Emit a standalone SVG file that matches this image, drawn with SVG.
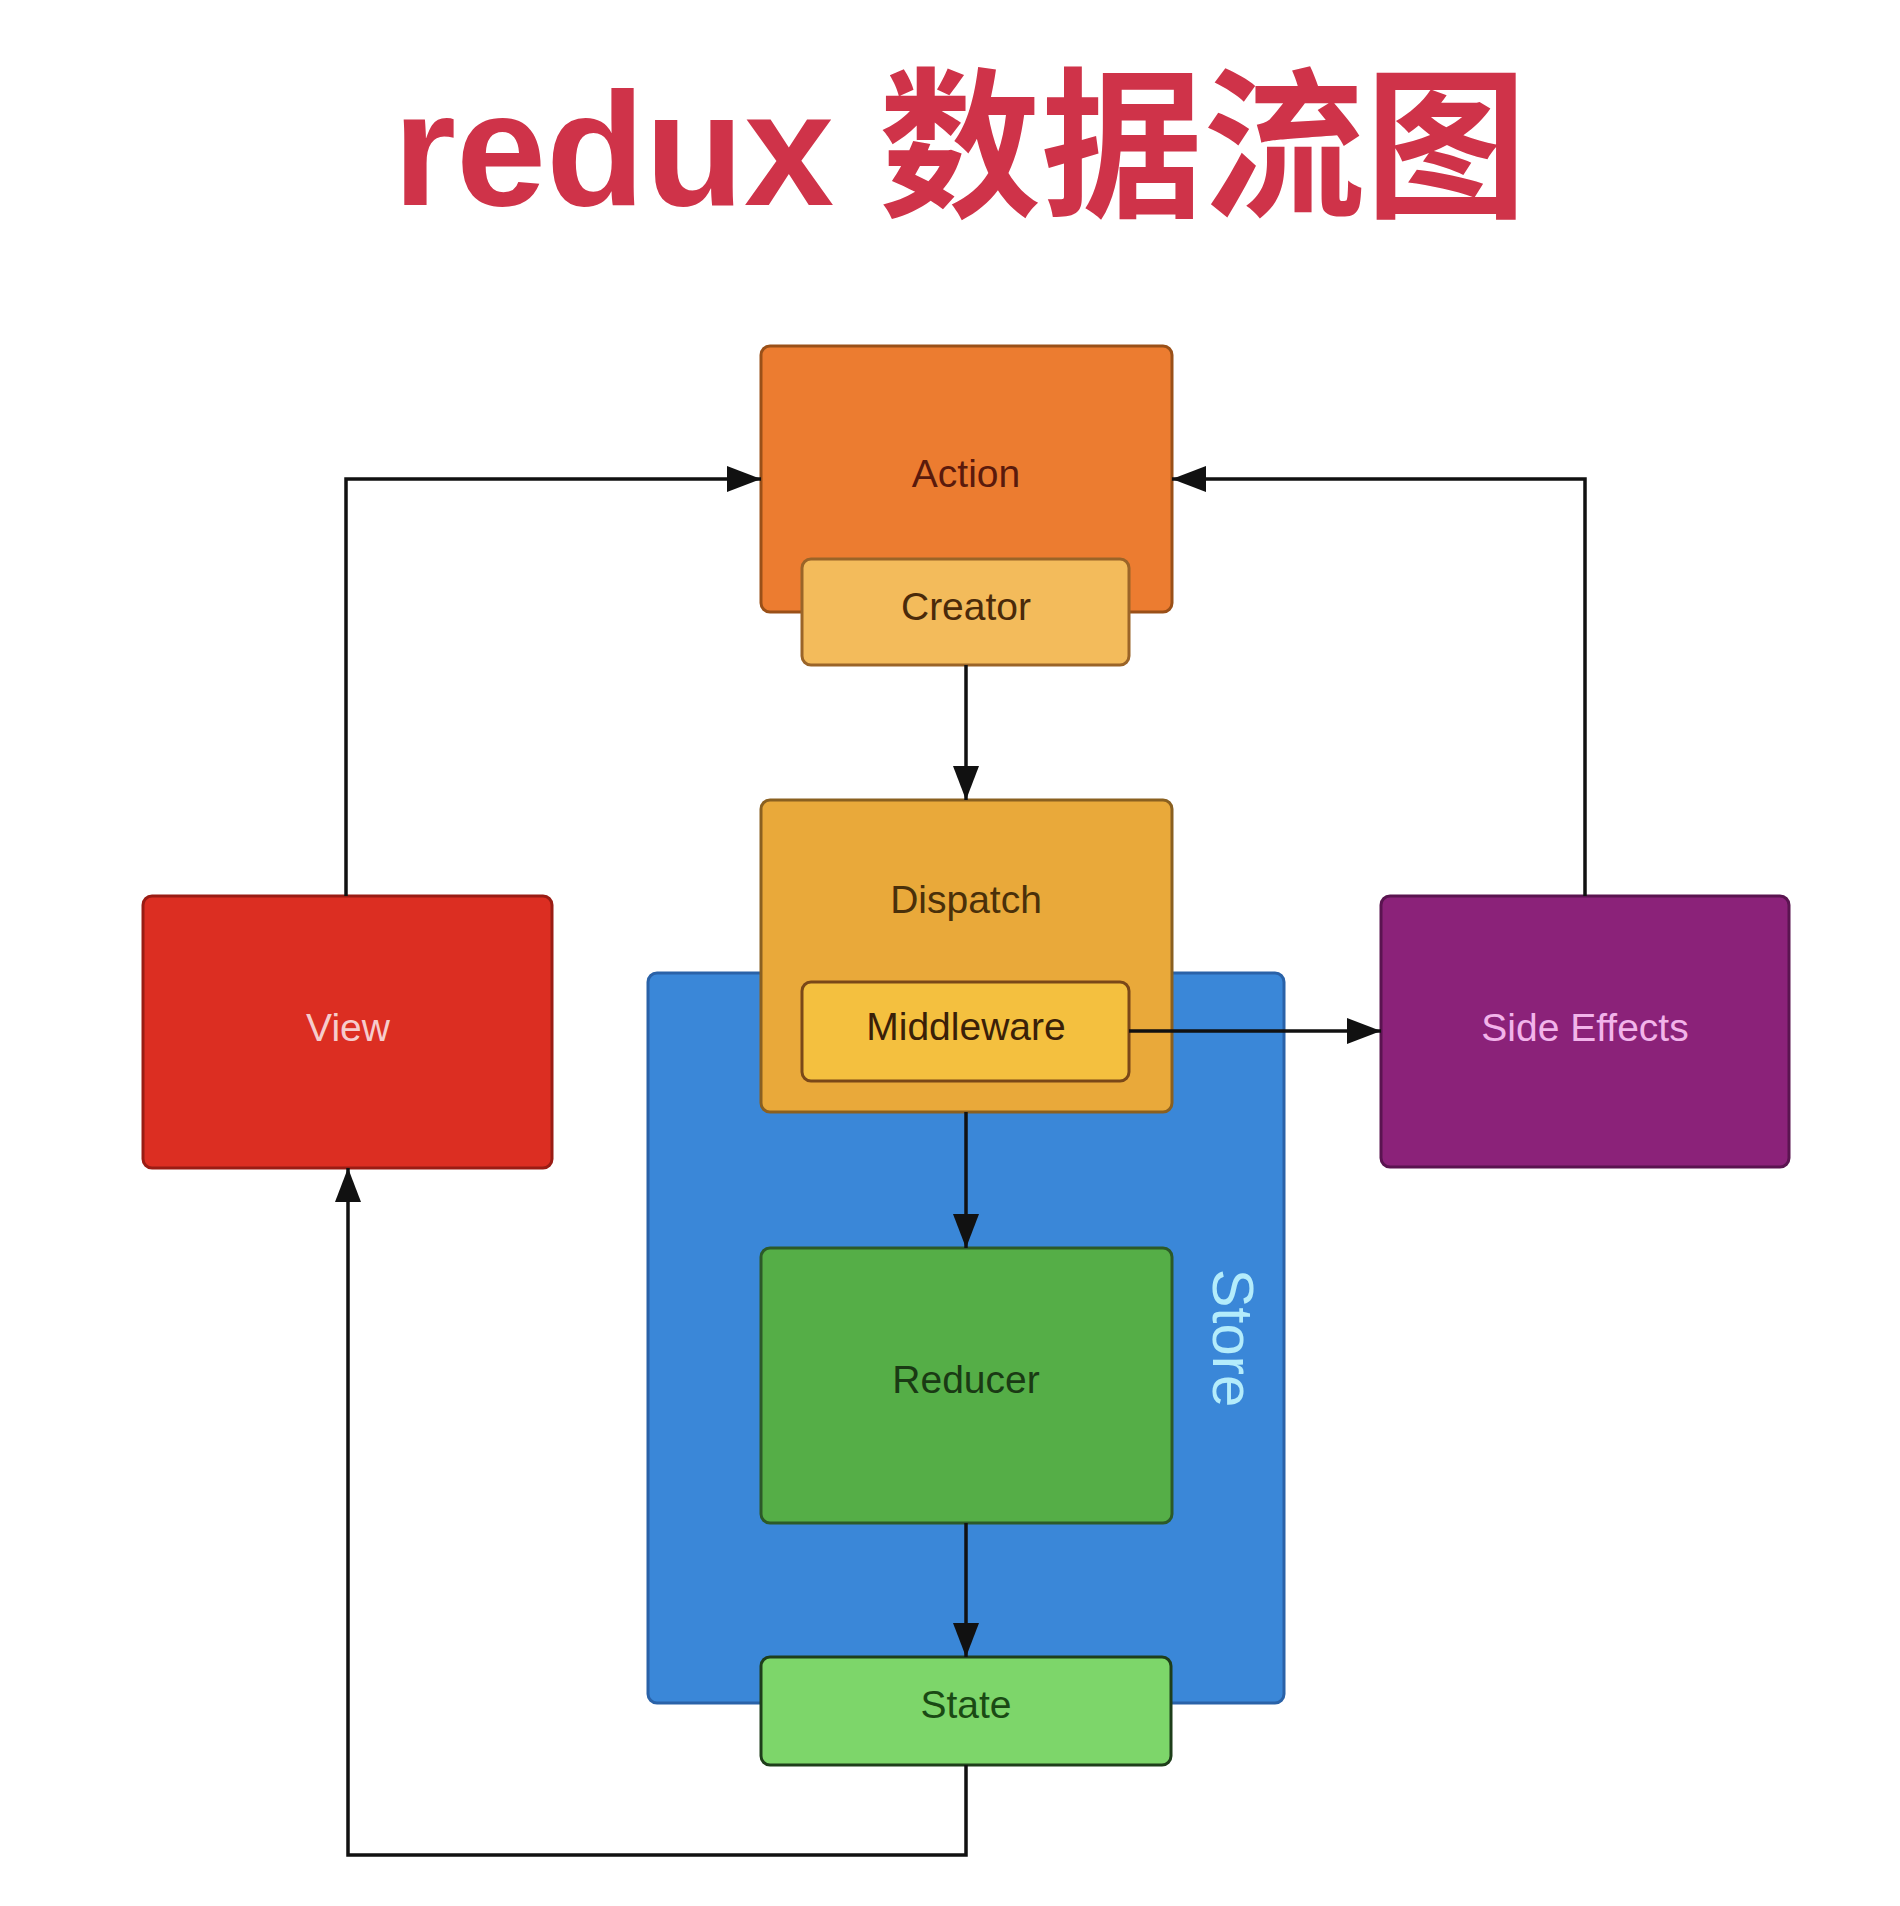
<svg xmlns="http://www.w3.org/2000/svg" width="1900" height="1906" viewBox="0 0 1900 1906">
  <style>
    .lbl { font-family: "Liberation Sans", Arial, sans-serif; font-size: 39px; text-anchor: middle; }
    .box { stroke-width: 3; }
    .conn { fill: none; stroke: #111; stroke-width: 3.5; }
  </style>
  <defs>
    <marker id="arr" markerUnits="userSpaceOnUse" markerWidth="34" markerHeight="26" refX="34" refY="13" orient="auto">
      <path d="M0,0 L34,13 L0,26 z" fill="#111"/>
    </marker>
  </defs>
  <rect width="1900" height="1906" fill="#ffffff"/>

  <text x="960" y="205" font-family="'Liberation Sans', 'Noto Sans CJK SC', sans-serif" font-weight="bold" font-size="162" fill="#cf3349" text-anchor="middle">redux 数据流图</text>

  <g id="store">
    <rect class="box" x="648" y="973" width="636" height="730" rx="9" fill="#3a87d8" stroke="#2a62a8"/>
    <text transform="translate(1213,1338) rotate(90)" font-family="'Liberation Sans', Arial, sans-serif" font-size="58" fill="#b4ecfb" text-anchor="middle">Store</text>
  </g>

  <g id="action">
    <rect class="box" x="761" y="346" width="411" height="266" rx="9" fill="#ec7c30" stroke="#9a5018"/>
    <text class="lbl" x="966" y="487" fill="#5a1a0c">Action</text>
  </g>
  <g id="creator">
    <rect class="box" x="802" y="559" width="327" height="106" rx="9" fill="#f3bb5b" stroke="#9a6428"/>
    <text class="lbl" x="966" y="620" fill="#4a2a0a">Creator</text>
  </g>

  <g id="dispatch">
    <rect class="box" x="761" y="800" width="411" height="312" rx="9" fill="#e9a93a" stroke="#8a6020"/>
    <text class="lbl" x="966" y="913" fill="#4a300a">Dispatch</text>
  </g>
  <g id="middleware">
    <rect class="box" x="802" y="982" width="327" height="99" rx="9" fill="#f4c03f" stroke="#7a4818"/>
    <text class="lbl" x="966" y="1040" fill="#3a2008">Middleware</text>
  </g>

  <g id="reducer">
    <rect class="box" x="761" y="1248" width="411" height="275" rx="9" fill="#55ae47" stroke="#2c5a28"/>
    <text class="lbl" x="966" y="1393" fill="#1a3a14">Reducer</text>
  </g>
  <g id="state">
    <rect class="box" x="761" y="1657" width="410" height="108" rx="9" fill="#7dd66a" stroke="#1e3e1a"/>
    <text class="lbl" x="966" y="1718" fill="#1a4a14">State</text>
  </g>

  <g id="view">
    <rect class="box" x="143" y="896" width="409" height="272" rx="9" fill="#dc2e22" stroke="#9a1c14"/>
    <text class="lbl" x="348" y="1041" fill="#f6cccc">View</text>
  </g>
  <g id="side-effects">
    <rect class="box" x="1381" y="896" width="408" height="271" rx="9" fill="#8b2279" stroke="#5a1450"/>
    <text class="lbl" x="1585" y="1041" fill="#f2b4ea">Side Effects</text>
  </g>

  <g id="connectors">
    <polyline class="conn" points="346,896 346,479 761,479" marker-end="url(#arr)"/>
    <polyline class="conn" points="1585,896 1585,479 1172,479" marker-end="url(#arr)"/>
    <line class="conn" x1="966" y1="665" x2="966" y2="800" marker-end="url(#arr)"/>
    <line class="conn" x1="1129" y1="1031" x2="1381" y2="1031" marker-end="url(#arr)"/>
    <line class="conn" x1="966" y1="1112" x2="966" y2="1248" marker-end="url(#arr)"/>
    <line class="conn" x1="966" y1="1523" x2="966" y2="1657" marker-end="url(#arr)"/>
    <polyline class="conn" points="966,1765 966,1855 348,1855 348,1168" marker-end="url(#arr)"/>
  </g>
</svg>
